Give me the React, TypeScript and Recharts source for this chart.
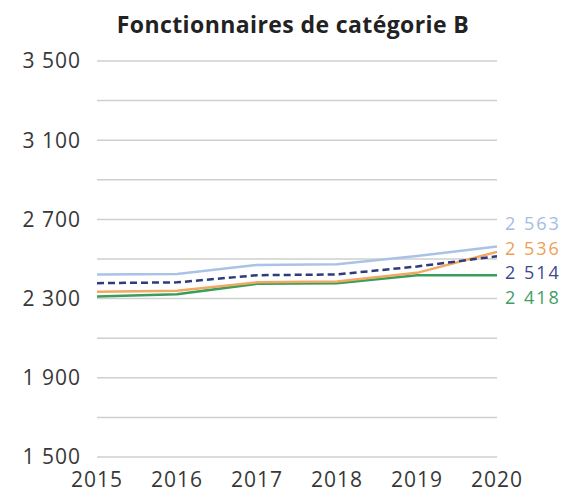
import React from 'react';
import { LineChart, Line, XAxis, YAxis, CartesianGrid, LabelList } from 'recharts';

const years = [2015, 2016, 2017, 2018, 2019, 2020];
const seriesLightBlue = [2422, 2424, 2470, 2474, 2515, 2563];
const seriesOrange = [2335, 2340, 2382, 2386, 2430, 2536];
const seriesGreen = [2310, 2322, 2375, 2378, 2418, 2418];
const seriesNavy = [2378, 2382, 2418, 2422, 2462, 2514];
const yTicks = [1500, 1700, 1900, 2100, 2300, 2500, 2700, 2900, 3100, 3300, 3500];
const yLabelled = [1500, 1900, 2300, 2700, 3100, 3500];
const title = 'Fonctionnaires de catégorie B';

const data = years.map((y, i) => ({
  year: y,
  lightBlue: seriesLightBlue[i],
  orange: seriesOrange[i],
  green: seriesGreen[i],
  navy: seriesNavy[i],
}));

const FONT = '"Open Sans", "Noto Sans", sans-serif';

const fmt = (v: number) => {
  const s = String(Math.round(v));
  return s.length > 3 ? s.slice(0, s.length - 3) + ' ' + s.slice(s.length - 3) : s;
};

const makeEndLabel = (color: string, dy: number) => (props: any) => {
  const { x, y, value, index } = props;
  if (index !== years.length - 1) return null;
  return (
    <text x={x + 8} y={y + dy} fill={color} fontSize={18} fontFamily={FONT} dominantBaseline="central" letterSpacing={2}>
      {fmt(value)}
    </text>
  );
};

const tickStyle = { fill: '#383838', fontSize: 21, fontFamily: FONT, letterSpacing: 1 };

export default function App() {
  return (
    <div style={{ position: 'absolute', left: 0, top: 0, width: 571, height: 492, background: '#fff' }}>
      <div
        style={{
          position: 'absolute',
          left: 0,
          top: 8,
          width: 586,
          textAlign: 'center',
          fontFamily: FONT,
          fontWeight: 700,
          fontSize: 23,
          color: '#222',
          letterSpacing: 0.4,
        }}
      >
        {title}
      </div>
      <LineChart width={571} height={492} data={data} margin={{ top: 61, right: 74, bottom: 5, left: 0 }}>
        <CartesianGrid vertical={false} stroke="#cfcfcf" strokeWidth={1.5} />
        <XAxis
          dataKey="year"
          type="number"
          domain={[2015, 2020]}
          ticks={years}
          axisLine={false}
          tickLine={false}
          tickSize={0}
          tickMargin={15}
          height={30}
          tick={tickStyle}
        />
        <YAxis
          type="number"
          domain={[1500, 3500]}
          ticks={yTicks}
          interval={0}
          axisLine={false}
          tickLine={false}
          tickSize={0}
          tickMargin={16}
          width={97}
          tickFormatter={(v: number) => (yLabelled.includes(v) ? fmt(v) : '')}
          tick={tickStyle}
        />
        <Line dataKey="green" stroke="#3a9e5a" strokeWidth={2.5} dot={false} isAnimationActive={false}>
          <LabelList dataKey="green" content={makeEndLabel('#3f9e62', 22)} />
        </Line>
        <Line dataKey="orange" stroke="#f0a862" strokeWidth={2.5} dot={false} isAnimationActive={false}>
          <LabelList dataKey="orange" content={makeEndLabel('#ee9f55', -4)} />
        </Line>
        <Line dataKey="lightBlue" stroke="#a9c3e6" strokeWidth={2.5} dot={false} isAnimationActive={false}>
          <LabelList dataKey="lightBlue" content={makeEndLabel('#a2bde3', -24)} />
        </Line>
        <Line dataKey="navy" stroke="#2e3b7c" strokeWidth={2.5} strokeDasharray="7 4" dot={false} isAnimationActive={false}>
          <LabelList dataKey="navy" content={makeEndLabel('#3b4a8c', 16)} />
        </Line>
      </LineChart>
    </div>
  );
}
